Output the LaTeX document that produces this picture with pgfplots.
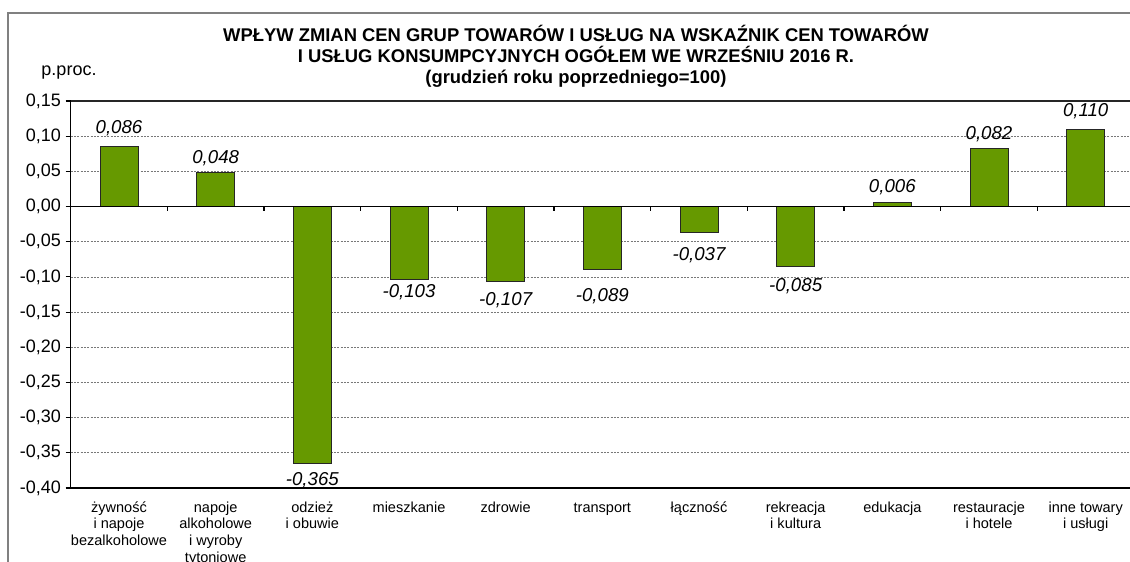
\documentclass[border=0pt]{standalone}
\usepackage{pgfplots}
\pgfplotsset{compat=1.18}
\usepackage{pgfplotstable}
\usepackage{fontspec}
\setmainfont{Liberation Sans}
\definecolor{barGreen}{RGB}{102,153,0}
\definecolor{frameGray}{RGB}{128,128,128}
\definecolor{gridGray}{RGB}{120,120,120}

\pgfplotstableread{
x v ly
0 0.086 0.1108
1 0.048 0.0682
2 -0.365 -0.3892
3 -0.103 -0.1222
4 -0.107 -0.1328
5 -0.089 -0.1278
6 -0.037 -0.0689
7 -0.085 -0.1136
8 0.006 0.0281
9 0.082 0.1023
10 0.110 0.1349
}\datatable

\begin{document}
\begin{tikzpicture}
\path[use as bounding box] (0,0) rectangle (847.5pt,420.75pt);
\draw[frameGray, line width=1.3pt] (6pt,-5pt) -- (6pt,411pt) -- (860pt,411pt);
\node[align=center, font=\fontsize{13.8}{15.75}\selectfont\bfseries] at (432pt,378.4pt)
  {WPŁYW ZMIAN CEN GRUP TOWARÓW I USŁUG NA WSKAŹNIK CEN TOWARÓW\\
   I USŁUG KONSUMPCYJNYCH OGÓŁEM WE WRZEŚNIU 2016 R.\\
   (grudzień roku poprzedniego=100)};
\node[font=\fontsize{13.5}{16}\selectfont] at (51.75pt,366pt) {p.proc.};
\begin{axis}[
  at={(53pt,54.75pt)}, anchor=south west,
  scale only axis, width=797.5pt, height=290.25pt,
  xmin=-0.5, xmax=10.5, ymin=-0.4, ymax=0.15,
  clip=false,
  axis line style={black, line width=0.9pt},
  ytick={-0.4,-0.35,-0.3,-0.25,-0.2,-0.15,-0.1,-0.05,0,0.05,0.1,0.15},
  yticklabel style={font=\fontsize{13.5}{16}\selectfont, /pgf/number format/.cd, fixed, fixed zerofill, precision=2, use comma, assume math mode=true},
  scaled y ticks=false,
  ymajorgrids,
  grid style={gridGray, dash pattern=on 1.5pt off 1pt, line width=0.5pt},
  tick align=outside,
  major tick length=3.75pt,
  ytick style={black, line width=0.8pt},
  xtick style={draw=none},
  xtick={0,...,10},
  xticklabels={{\strut żywność\\i napoje\\bezalkoholowe},{\strut napoje\\alkoholowe\\i wyroby\\tytoniowe},{\strut odzież\\i obuwie},{\strut mieszkanie},{\strut zdrowie},{\strut transport},{\strut łączność},{\strut rekreacja\\i kultura},{\strut edukacja},{\strut restauracje\\i hotele},{\strut inne towary\\i usługi}},
  xticklabel style={align=center, anchor=north, font=\fontsize{10.9}{12.5}\selectfont, yshift=-2pt},
  axis x line*=bottom, axis y line*=left,
]
\draw[black!85, line width=0.9pt] (axis cs:-0.5,0.15) -- (axis cs:10.5,0.15);
\addplot[ybar, bar width=28.5pt, fill=barGreen, draw=black!85, line width=0.75pt] table[x=x, y=v] {\datatable};
\addplot[draw=none, mark=none, nodes near coords, point meta=explicit,
  every node near coord/.append style={anchor=center, font=\fontsize{14}{16}\selectfont\itshape, /pgf/number format/.cd, fixed, fixed zerofill, precision=3, use comma, assume math mode=true}]
  table[x=x, y=ly, meta=v] {\datatable};
\draw[black, line width=0.9pt] (axis cs:-0.5,0) -- (axis cs:10.5,0);
\pgfplotsinvokeforeach{0.5,1.5,2.5,3.5,4.5,5.5,6.5,7.5,8.5,9.5}{
  \draw[black, line width=0.8pt] (axis cs:#1,0) -- ++(0pt,-3pt);
}
\end{axis}
\end{tikzpicture}
\end{document}
